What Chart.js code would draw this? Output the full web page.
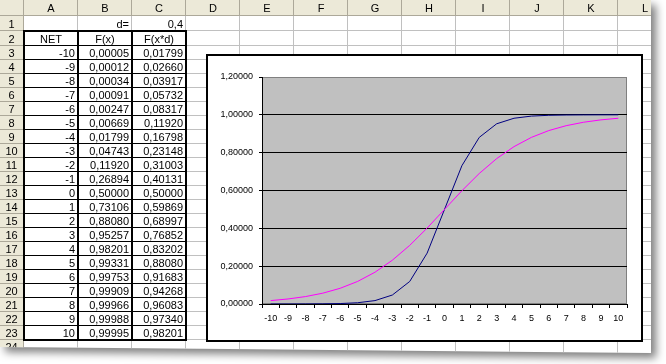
<!DOCTYPE html>
<html>
<head>
<meta charset="utf-8">
<script src="https://cdn.jsdelivr.net/npm/chart.js@4"></script>
<style>
  body { margin: 0; background: #fff; width: 666px; height: 364px; overflow: hidden; font-family: "Liberation Sans", Arial, sans-serif; }
  #wrap { position: absolute; left: 0; top: 0; width: 666px; height: 364px; filter: drop-shadow(5px 5px 4px rgba(0,0,0,0.5)); }
  #sheet { position: absolute; left: 0; top: 0; width: 651px; height: 354px; background: #fff; overflow: hidden;
           clip-path: polygon(0 0, 651px 0, 651px 353px, 0 347px); }
  .l { position: absolute; }
  .t { position: absolute; font-size: 11px; line-height: 14px; white-space: nowrap; color: #000; }
  #box { position: absolute; left: 206px; top: 54px; width: 437px; height: 288px; border: 2px solid #000; box-sizing: border-box; background: #fff; }
  #box canvas { position: absolute; left: 0; top: 0; }
</style>
</head>
<body>
<div id="wrap"><div id="sheet"></div></div>
<script>
// worksheet values
const d = 0.4;
const NET = [-10, -9, -8, -7, -6, -5, -4, -3, -2, -1, 0, 1, 2, 3, 4, 5, 6, 7, 8, 9, 10];
const Fx = [0.00005, 0.00012, 0.00034, 0.00091, 0.00247, 0.00669, 0.01799, 0.04743, 0.11920, 0.26894, 0.50000,
            0.73106, 0.88080, 0.95257, 0.98201, 0.99331, 0.99753, 0.99909, 0.99966, 0.99988, 0.99995];
const Fxd = [0.01799, 0.02660, 0.03917, 0.05732, 0.08317, 0.11920, 0.16798, 0.23148, 0.31003, 0.40131, 0.50000,
             0.59869, 0.68997, 0.76852, 0.83202, 0.88080, 0.91683, 0.94268, 0.96083, 0.97340, 0.98201];
const headers = ["NET", "F(x)", "F(x*d)"];
const colNames = ["A", "B", "C", "D", "E", "F", "G", "H", "I", "J", "K", "L"];
const yMax = 1.2;
const yStep = 0.2;

const sheet = document.getElementById("sheet");
const colX = [0, 24, 78, 132, 186, 240, 294, 348, 402, 456, 510, 564, 618, 672];
const rowY = [0, 16, 31, 46];
while (rowY.length < 26) rowY.push(rowY[rowY.length - 1] + 14);

function rect(x, y, w, h, col) {
  const e = document.createElement("div");
  e.className = "l";
  e.style.cssText = `left:${x}px;top:${y}px;width:${w}px;height:${h}px;background:${col}`;
  sheet.appendChild(e);
}
function text(s, x, y, w, align) {
  const e = document.createElement("div");
  e.className = "t";
  e.style.cssText = `left:${x}px;top:${y}px;width:${w}px;text-align:${align}`;
  e.textContent = s;
  sheet.appendChild(e);
}
const fmt = v => v.toFixed(5).replace(".", ",");

// headers
rect(0, 0, 651, 15, "#ECE9D8");
rect(0, 16, 23, 340, "#ECE9D8");
rect(0, 15, 651, 1, "#ACA899");
rect(23, 0, 1, 356, "#ACA899");
for (let i = 2; i < colX.length; i++) rect(colX[i] - 1, 0, 1, 15, "#ACA899");
for (let r = 2; r < rowY.length; r++) rect(0, rowY[r] - 1, 23, 1, "#ACA899");
colNames.forEach((n, i) => text(n, colX[i + 1], 1, colX[i + 2] - colX[i + 1], "center"));
for (let r = 1; r <= 24; r++) text(String(r), 0, rowY[r] + (rowY[r + 1] - rowY[r] - 14) / 2, 23, "center");

// gridlines
for (let i = 2; i < colX.length; i++) rect(colX[i] - 1, 16, 1, 340, "#C0C0C0");
for (let r = 2; r < rowY.length; r++) rect(24, rowY[r] - 1, 630, 1, "#C0C0C0");

// cells
text("d=", colX[2], rowY[1] + 0.5, colX[3] - colX[2] - 3, "right");
text(String(d).replace(".", ","), colX[3], rowY[1] + 0.5, colX[4] - colX[3] - 3, "right");
headers.forEach((h, i) => text(h, colX[i + 1], rowY[2] + 1, colX[i + 2] - colX[i + 1], "center"));
NET.forEach((n, i) => {
  const y = rowY[i + 3];
  text(String(n), colX[1], y, 51, "right");
  text(fmt(Fx[i]), colX[2], y, 51, "right");
  text(fmt(Fxd[i]), colX[3], y, 51, "right");
});

// table borders
for (let r = 3; r <= 23; r++) rect(24, rowY[r] - 1, 162, 1, "#000");
rect(23, rowY[2] - 1, 164, 2, "#000");
rect(23, rowY[24] - 1, 164, 2, "#000");
[24, 78, 132, 186].forEach(x => rect(x - 1, rowY[2] - 1, 2, rowY[24] - rowY[2] + 1, "#000"));

// chart
const box = document.createElement("div");
box.id = "box";
box.innerHTML = '<canvas id="c" width="433" height="284"></canvas>';
sheet.appendChild(box);

const plotBg = {
  id: "plotBg",
  beforeDraw(c) {
    const a = c.chartArea, ctx = c.ctx;
    ctx.save();
    ctx.fillStyle = "#C0C0C0";
    ctx.fillRect(a.left, a.top, a.right - a.left, a.bottom - a.top);
    ctx.strokeStyle = "#808080";
    ctx.lineWidth = 1;
    ctx.strokeRect(a.left + 0.5, a.top + 0.5, a.right - a.left - 1, a.bottom - a.top - 1);
    ctx.restore();
  }
};

const tickFont = { family: "'Liberation Sans', Arial, sans-serif", size: 9 };

new Chart(document.getElementById("c"), {
  type: "line",
  data: {
    labels: NET.map(String),
    datasets: [
      { label: "F(x)", data: Fx, borderColor: "#000080", borderWidth: 1, pointRadius: 0, tension: 0, order: 1 },
      { label: "F(x*d)", data: Fxd, borderColor: "#FF00FF", borderWidth: 1, pointRadius: 0, tension: 0, order: 0 }
    ]
  },
  options: {
    responsive: false,
    animation: false,
    devicePixelRatio: 1,
    layout: { padding: { left: 4, top: 21, right: 14, bottom: 8 } },
    plugins: { legend: { display: false }, tooltip: { enabled: false } },
    scales: {
      x: {
        z: 1,
        offset: true,
        grid: { offset: true, drawOnChartArea: false, tickLength: 4, tickColor: "#000", color: "#000" },
        border: { color: "#000", width: 1 },
        ticks: { color: "#000", font: tickFont, padding: 5, maxRotation: 0, autoSkip: false },
        afterFit(s) { s.height = 28; }
      },
      y: {
        z: 1,
        min: 0,
        max: yMax,
        ticks: { stepSize: yStep, color: "#000", font: tickFont, padding: 6,
                 callback: v => fmt(v) },
        grid: { color: c => (c.tick && c.tick.value > yMax - 0.01) ? "rgba(0,0,0,0)" : "#000",
                tickColor: "#000", tickLength: 3 },
        border: { color: "#000", width: 1 },
        afterFit(s) { s.width = 50; }
      }
    }
  },
  plugins: [plotBg]
});
</script>
</body>
</html>
